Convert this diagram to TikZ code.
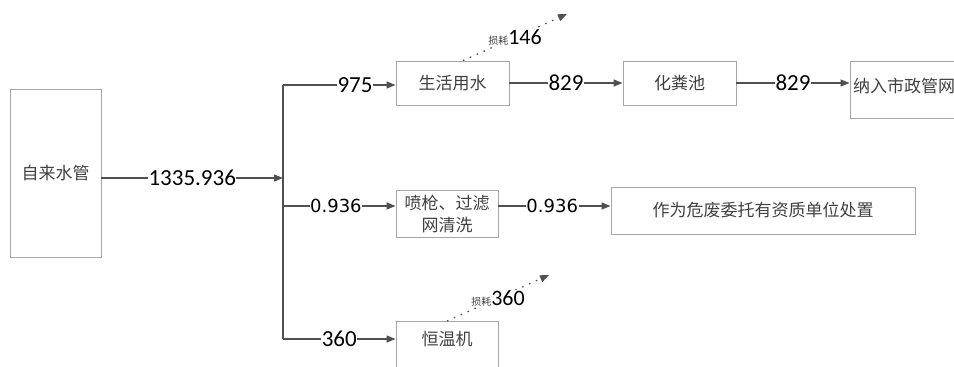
\documentclass[tikz,border=0pt]{standalone}
\usepackage{fontspec}
\setmainfont{Carlito}
\newfontfamily\cjk{Noto Sans CJK SC}[Scale=1.0]
\newfontfamily\dvs{DejaVu Sans}
\usetikzlibrary{arrows.meta}
\definecolor{linegray}{HTML}{505050}
\definecolor{boxgray}{HTML}{A6A6A6}
\definecolor{txtgray}{HTML}{404040}
\tikzset{
	box/.style={draw=boxgray,line width=0.9pt,text=txtgray,font=\cjk\fontsize{17}{21}\selectfont,align=center,inner sep=2pt},
	flow/.style={draw=linegray,line width=1.3pt,-{Triangle[length=9pt,width=7pt]}},
	num/.style={fill=white,inner sep=0.5pt,text=black,font=\fontsize{23}{23}\selectfont},
	numb/.style={fill=white,inner sep=0.5pt,text=black,font=\dvs\fontsize{18}{18}\selectfont},
	lossarrow/.style={draw=linegray,line width=1.3pt,dash pattern=on 1.5pt off 6pt,-{Triangle[length=9pt,width=7pt]}},
	loss/.style={fill=white,inner sep=0.5pt,text=black}
}
\begin{document}
\begin{tikzpicture}[x=1pt,y=-1pt]
	\useasboundingbox (0,0) rectangle (954,367);
	% boxes
	\node[box,minimum width=91pt,minimum height=168pt] (src) at (55.5,173) {自来水管};
	\node[box,minimum width=113pt,minimum height=44pt] (life) at (452.5,83) {生活用水};
	\node[box,minimum width=113pt,minimum height=44pt] (septic) at (679.5,83) {化粪池};
	\node[box,anchor=north,minimum width=108pt,inner ysep=0pt,text height=31pt,text depth=26pt] (sewer) at (904,61) {纳入市政管网};
	\node[box,minimum width=102pt,minimum height=47pt,font=\cjk\fontsize{17}{22}\selectfont] (spray) at (447,213.5) {喷枪、过滤\\网清洗};
	\node[box,minimum width=304pt,minimum height=47pt] (hazard) at (763,210.5) {作为危废委托有资质单位处置};
	\node[box,anchor=north,minimum width=102pt,inner ysep=0pt,text height=24pt,text depth=30pt] (thermo) at (447,321) {恒温机};
	% trunk
	\coordinate (jtop) at (283,85);
	\coordinate (jmid) at (283,206);
	\coordinate (jbot) at (283,339);
	\coordinate (junc) at (283,178);
	\coordinate (loss1) at (567,14);
	\coordinate (loss2) at (549,275);
	\draw[draw=linegray,line width=1.3pt] (jtop) -- (jbot);
	\draw[flow] (src.east |- junc) -- node[num]{1335.936} (junc);
	% branches
	\draw[flow] (jtop) -- node[num,pos=0.64]{975} (jtop -| life.west);
	\draw[flow] (jmid) -- node[numb,pos=0.47]{0.936} (jmid -| spray.west);
	\draw[flow] (jbot) -- node[num,pos=0.5]{360} (jbot -| thermo.west);
	\draw[flow] (life.east) -- node[num]{829} (septic.west);
	\draw[flow] (septic.east) -- node[num]{829} (septic.east -| sewer.west);
	\draw[flow] (jmid -| spray.east) -- node[numb,pos=0.48]{0.936} (jmid -| hazard.west);
	% losses
	\draw[lossarrow] ([xshift=10.5pt]life.north) -- node[loss,pos=0.5]{{\cjk\color{txtgray}\fontsize{10}{10}\selectfont 损耗}{\fontsize{22}{22}\selectfont 146}} (loss1);
	\draw[lossarrow] (thermo.north) -- node[loss,pos=0.5]{{\cjk\color{txtgray}\fontsize{10}{10}\selectfont 损耗}{\fontsize{22}{22}\selectfont 360}} (loss2);
\end{tikzpicture}
\end{document}
